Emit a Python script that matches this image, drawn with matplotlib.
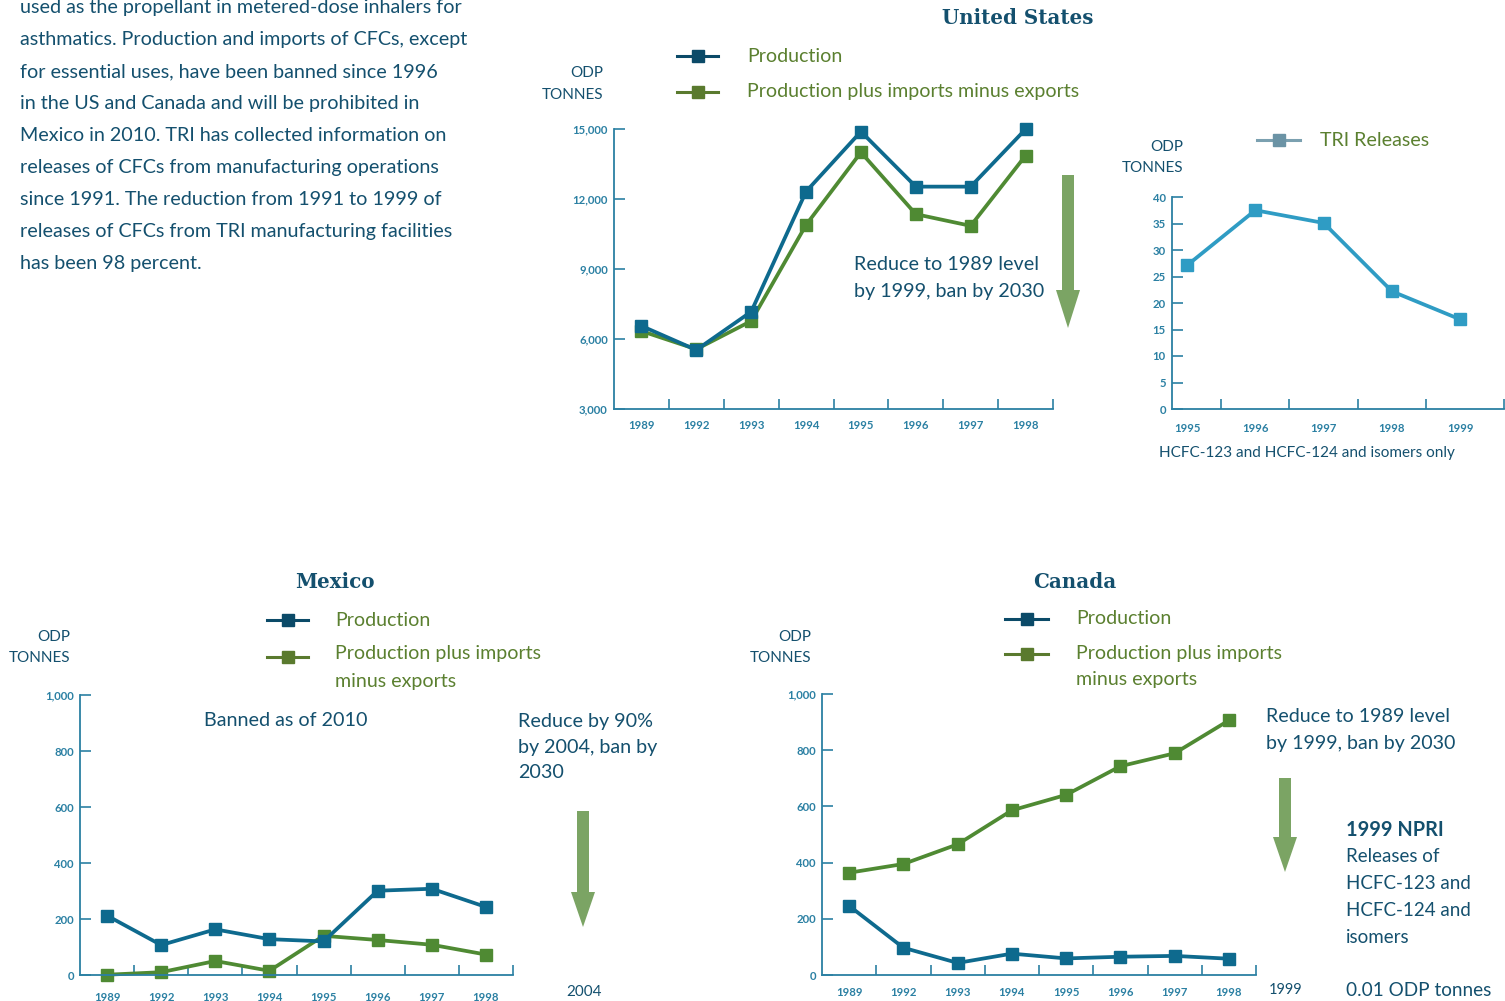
import matplotlib
matplotlib.use("Agg")
import matplotlib.pyplot as plt
from matplotlib.lines import Line2D
from matplotlib.patches import Polygon

# ---------------- data ----------------
years_main = ["1989", "1992", "1993", "1994", "1995", "1996", "1997", "1998"]
us_production = [6560, 5530, 7170, 12320, 14890, 12530, 12530, 14990]
us_ppime = [6340, 5560, 6770, 10890, 14000, 11350, 10850, 13860]
us_yticks = [3000, 6000, 9000, 12000, 15000]

tri_years = ["1995", "1996", "1997", "1998", "1999"]
tri_releases = [27.1, 37.5, 35.1, 22.2, 16.9]
tri_yticks = [0, 5, 10, 15, 20, 25, 30, 35, 40]

mx_production = [212, 107, 163, 128, 120, 301, 308, 243]
mx_ppime = [1, 10, 50, 15, 140, 125, 108, 73]
ca_production = [246, 97, 43, 76, 59, 65, 68, 58]
ca_ppime = [364, 395, 465, 586, 641, 743, 789, 906]
small_yticks = [0, 200, 400, 600, 800, 1000]

body_lines = [
    "used as the propellant in metered-dose inhalers for",
    "asthmatics. Production and imports of CFCs, except",
    "for essential uses, have been banned since 1996",
    "in the US and Canada and will be prohibited in",
    "Mexico in 2010. TRI has collected information on",
    "releases of CFCs from manufacturing operations",
    "since 1991. The reduction from 1991 to 1999 of",
    "releases of CFCs from TRI manufacturing facilities",
    "has been 98 percent.",
]

# ---------------- style ----------------
W, H = 1505, 1001
PROD = "#0e6a8e"
PROD_LEG = "#0b4a68"
GREEN = "#4f8a33"
GREEN_LEG = "#5a7a2e"
TRI = "#2f9cc4"
TRI_LEG = "#6b93a5"
AXC = "#2b80a3"
DARK = "#14506e"
GTEXT = "#5b8030"
ARROW = "#7ba464"
SANS = ["Lato", "DejaVu Sans"]
SERIF = ["DejaVu Serif"]

fig = plt.figure(figsize=(W / 100, H / 100), dpi=100)
ov = fig.add_axes([0, 0, 1, 1])
ov.set_xlim(0, W)
ov.set_ylim(H, 0)
ov.axis("off")


def txt(x, y, s, size=14.1, color=DARK, weight="normal", ha="left", family=SANS):
    ov.text(x, y, s, fontsize=size, color=color, fontweight=weight, ha=ha,
            va="center", family=family)


def pix_axes(l, t, r, b):
    ax = fig.add_axes([l / W, 1 - b / H, (r - l) / W, (b - t) / H])
    ax.set_facecolor("none")
    for s in ["top", "right"]:
        ax.spines[s].set_visible(False)
    for s in ["left", "bottom"]:
        ax.spines[s].set_color(AXC)
        ax.spines[s].set_linewidth(1.3)
    return ax


def style_axis(ax, cats, yticks, ylim, xlim, fmt, xt_minor, lab_pad=8):
    ax.set_xlim(*xlim)
    ax.set_ylim(*ylim)
    ax.set_xticks(range(len(cats)))
    ax.set_xticklabels(cats)
    ax.tick_params(axis="x", which="major", length=0, labelsize=8.2,
                   labelcolor=AXC, pad=lab_pad)
    ax.set_xticks(xt_minor, minor=True)
    ax.tick_params(axis="x", which="minor", direction="in", length=7,
                   width=1.2, color=AXC)
    ax.set_yticks(yticks)
    ax.set_yticklabels([fmt(v) for v in yticks])
    ax.tick_params(axis="y", direction="in", length=8, width=1.2, color=AXC,
                   labelsize=8.2, labelcolor=AXC, pad=4.5)
    for lab in ax.get_xticklabels() + ax.get_yticklabels():
        lab.set_family(SANS)
        lab.set_fontweight("bold")


def legend_key(x0, x1, y, lc, mc):
    ov.add_line(Line2D([x0, x1], [y, y], color=lc, lw=2.2))
    ov.add_line(Line2D([(x0 + x1) / 2], [y], marker="s", ms=8, color=mc, lw=0))


def arrow(x, y0, y1, head_len, shaft_w=12, head_w=24):
    yh = y1 - head_len
    pts = [(x - shaft_w / 2, y0), (x + shaft_w / 2, y0), (x + shaft_w / 2, yh),
           (x + head_w / 2, yh), (x, y1), (x - head_w / 2, yh), (x - shaft_w / 2, yh)]
    ov.add_patch(Polygon(pts, closed=True, color=ARROW, lw=0))


line_kw = dict(lw=2.7, marker="s", ms=8.5, clip_on=False)

# ---------------- body text ----------------
for i, s in enumerate(body_lines):
    txt(20, 8 + i * 31.9, s, size=14.2)

# ---------------- United States ----------------
txt(1018, 18, "United States", size=14.3, weight="bold", ha="center", family=SERIF)
legend_key(677, 718, 56, PROD_LEG, PROD_LEG)
legend_key(677, 718, 92, GREEN_LEG, GREEN_LEG)
txt(747, 56, "Production", color=GTEXT)
txt(747, 91, "Production plus imports minus exports", color=GTEXT)
txt(603, 73, "ODP", size=11, ha="right")
txt(603, 95, "TONNES", size=11, ha="right")

ax = pix_axes(614, 129, 1053, 409)
x = range(len(years_main))
ax.plot(x, us_production, color=PROD, zorder=3, **line_kw)
ax.plot(x, us_ppime, color=GREEN, zorder=2, **line_kw)
style_axis(ax, years_main, us_yticks, (3000, 15000), (-0.5, 7.5),
           lambda v: f"{v:,}", [i + 0.5 for i in range(8)], lab_pad=8)
txt(854, 264, "Reduce to 1989 level", size=14.2)
txt(854, 291, "by 1999, ban by 2030", size=14.2)
arrow(1068, 175, 328, 38)

# ---------------- TRI releases ----------------
legend_key(1257, 1300, 140, "#7ba0b0", TRI_LEG)
txt(1320, 141, "TRI Releases", color=GTEXT)
txt(1183, 147, "ODP", size=11, ha="right")
txt(1183, 168, "TONNES", size=11, ha="right")
ax = pix_axes(1172, 197, 1504, 409)
ax.plot(range(len(tri_years)), tri_releases, color=TRI, **line_kw)
style_axis(ax, tri_years, tri_yticks, (0, 40), (-0.22, 4.64),
           lambda v: f"{v}", [0.5, 1.5, 2.5, 3.5, 4.64], lab_pad=10)
txt(1307, 453, "HCFC-123 and HCFC-124 and isomers only", size=11, ha="center")

# ---------------- Mexico ----------------
txt(335, 582, "Mexico", size=14.3, weight="bold", ha="center", family=SERIF)
legend_key(267, 308, 620, PROD_LEG, PROD_LEG)
legend_key(267, 308, 657, GREEN_LEG, GREEN_LEG)
txt(335, 620, "Production", color=GTEXT)
txt(335, 654, "Production plus imports", color=GTEXT)
txt(335, 681, "minus exports", color=GTEXT)
txt(70, 637, "ODP", size=11, ha="right")
txt(70, 658, "TONNES", size=11, ha="right")
ax = pix_axes(80, 695, 513, 975)
ax.plot(x, mx_production, color=PROD, zorder=3, **line_kw)
ax.plot(x, mx_ppime, color=GREEN, zorder=2, **line_kw)
style_axis(ax, years_main, small_yticks, (0, 1000), (-0.5, 7.5),
           lambda v: f"{v:,}", [i + 0.5 for i in range(8)], lab_pad=12)
txt(204, 721, "Banned as of 2010", size=14.2)
txt(518, 721, "Reduce by 90%", size=14.2)
txt(518, 747, "by 2004, ban by", size=14.2)
txt(518, 773, "2030", size=14.2)
arrow(583, 811, 927, 35)
txt(584, 992, "2004", size=11, ha="center")

# ---------------- Canada ----------------
txt(1075, 582, "Canada", size=14.3, weight="bold", ha="center", family=SERIF)
legend_key(1005, 1048, 619, PROD_LEG, PROD_LEG)
legend_key(1005, 1048, 654, GREEN_LEG, GREEN_LEG)
txt(1076, 619, "Production", color=GTEXT)
txt(1076, 654, "Production plus imports", color=GTEXT)
txt(1076, 680, "minus exports", color=GTEXT)
txt(811, 637, "ODP", size=11, ha="right")
txt(811, 658, "TONNES", size=11, ha="right")
ax = pix_axes(822, 694, 1256, 975)
ax.plot(x, ca_production, color=PROD, zorder=3, **line_kw)
ax.plot(x, ca_ppime, color=GREEN, zorder=2, **line_kw)
style_axis(ax, years_main, small_yticks, (0, 1000), (-0.5, 7.5),
           lambda v: f"{v:,}", [i + 0.5 for i in range(8)], lab_pad=9)
txt(1266, 717, "Reduce to 1989 level", size=14.1)
txt(1266, 743, "by 1999, ban by 2030", size=14.1)
arrow(1285, 778, 872, 35)
txt(1286, 990, "1999", size=10.5, ha="center")
txt(1346, 830, "1999 NPRI", size=14.3, weight="bold")
for i, s in enumerate(["Releases of", "HCFC-123 and", "HCFC-124 and", "isomers"]):
    txt(1346, 857 + i * 26.7, s, size=13.5)
txt(1346, 990, "0.01 ODP tonnes", size=13.7)

fig.savefig("out.png", dpi=100)
